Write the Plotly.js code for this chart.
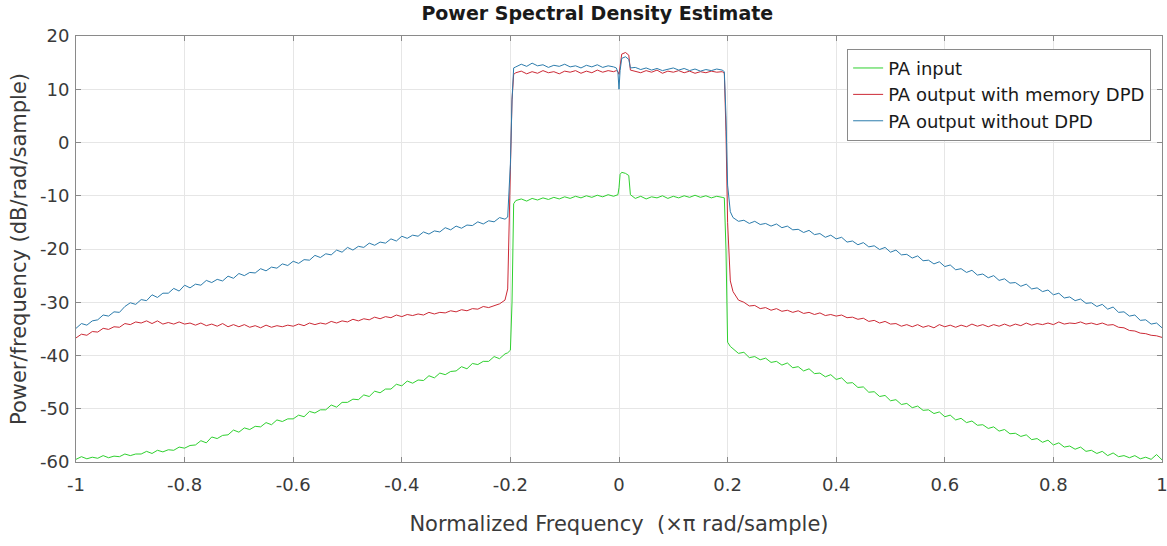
<!DOCTYPE html>
<html>
<head>
<meta charset="utf-8">
<script src="https://cdn.plot.ly/plotly-3.0.1.min.js"></script>
<style>
  html, body { margin: 0; padding: 0; background: #ffffff; }
  #chart { width: 1167px; height: 546px; }
</style>
</head>
<body>
<div id="chart"></div>
<script>
// Normalized frequency (x pi rad/sample)
const freq = [
  -1.00,-0.99,-0.98,-0.97,-0.96,-0.95,-0.94,-0.93,-0.92,-0.91,
  -0.90,-0.89,-0.88,-0.87,-0.86,-0.85,-0.84,-0.83,-0.82,-0.81,
  -0.80,-0.79,-0.78,-0.77,-0.76,-0.75,-0.74,-0.73,-0.72,-0.71,
  -0.70,-0.69,-0.68,-0.67,-0.66,-0.65,-0.64,-0.63,-0.62,-0.61,
  -0.60,-0.59,-0.58,-0.57,-0.56,-0.55,-0.54,-0.53,-0.52,-0.51,
  -0.50,-0.49,-0.48,-0.47,-0.46,-0.45,-0.44,-0.43,-0.42,-0.41,
  -0.40,-0.39,-0.38,-0.37,-0.36,-0.35,-0.34,-0.33,-0.32,-0.31,
  -0.30,-0.29,-0.28,-0.27,-0.26,-0.25,-0.24,-0.23,-0.22,-0.21,
  -0.205,-0.200,-0.197,-0.194,
  -0.19,-0.18,-0.17,-0.16,-0.15,-0.14,-0.13,-0.12,-0.11,-0.10,
  -0.09,-0.08,-0.07,-0.06,-0.05,-0.04,-0.03,-0.02,-0.01,
  -0.005,-0.002,0.000,0.002,0.005,0.012,0.018,0.021,
  0.03,0.04,0.05,0.06,0.07,0.08,0.09,0.10,0.11,0.12,
  0.13,0.14,0.15,0.16,0.17,0.18,0.19,
  0.194,0.197,0.200,0.205,
  0.21,0.22,0.23,0.24,0.25,0.26,0.27,0.28,0.29,0.30,
  0.31,0.32,0.33,0.34,0.35,0.36,0.37,0.38,0.39,0.40,
  0.41,0.42,0.43,0.44,0.45,0.46,0.47,0.48,0.49,0.50,
  0.51,0.52,0.53,0.54,0.55,0.56,0.57,0.58,0.59,0.60,
  0.61,0.62,0.63,0.64,0.65,0.66,0.67,0.68,0.69,0.70,
  0.71,0.72,0.73,0.74,0.75,0.76,0.77,0.78,0.79,0.80,
  0.81,0.82,0.83,0.84,0.85,0.86,0.87,0.88,0.89,0.90,
  0.91,0.92,0.93,0.94,0.95,0.96,0.97,0.98,0.99,1.00
];

// PA input (dB/rad/sample)
const paInput = [
  -59.5,-59.0,-59.4,-59.1,-59.3,-58.8,-59.2,-58.9,-59.0,-58.5,
  -58.8,-58.5,-58.5,-58.0,-58.4,-57.8,-58.1,-57.7,-57.8,-57.2,
  -57.4,-56.9,-56.8,-56.0,-56.4,-55.3,-55.6,-55.0,-54.9,-54.0,
  -54.4,-53.6,-53.9,-53.3,-53.4,-52.6,-53.0,-52.1,-52.4,-51.9,
  -51.9,-51.2,-51.5,-50.5,-50.8,-50.2,-50.2,-49.3,-49.7,-48.8,
  -48.8,-48.2,-48.3,-47.4,-47.7,-46.7,-47.0,-46.3,-46.3,-45.4,
  -45.7,-44.8,-45.2,-44.6,-44.7,-43.8,-44.2,-43.3,-43.6,-43.0,
  -42.9,-42.1,-42.5,-41.5,-41.7,-41.1,-41.1,-40.2,-40.6,-39.7,
  -39.5,-39.0,-30.0,-11.5,
  -10.9,-10.6,-11.0,-10.5,-10.8,-10.4,-10.7,-10.3,-10.6,-10.2,
  -10.5,-10.1,-10.4,-10.0,-10.3,-9.9,-10.2,-9.8,-10.1,
  -10.0,-9.8,-8.5,-6.0,-5.6,-5.8,-6.2,-9.8,
  -10.5,-10.1,-10.6,-10.2,-10.4,-10.0,-10.5,-10.1,-10.4,-10.0,
  -10.3,-9.9,-10.3,-10.0,-10.4,-10.1,-10.3,
  -10.4,-20.0,-37.5,-38.3,
  -38.7,-39.6,-39.4,-40.4,-40.2,-40.8,-40.5,-41.3,-41.1,-41.8,
  -41.4,-42.3,-42.1,-42.9,-42.5,-43.4,-43.3,-44.0,-43.6,-44.5,
  -44.2,-45.2,-45.1,-46.0,-45.9,-46.9,-46.8,-47.7,-47.5,-48.5,
  -48.3,-49.2,-49.0,-49.8,-49.5,-50.3,-50.2,-50.9,-50.6,-51.5,
  -51.2,-52.1,-51.8,-52.6,-52.3,-53.1,-53.0,-53.7,-53.4,-54.2,
  -53.9,-54.7,-54.6,-55.2,-54.9,-55.8,-55.6,-56.3,-55.9,-56.8,
  -56.4,-57.2,-57.0,-57.6,-57.2,-58.0,-57.8,-58.4,-58.0,-58.8,
  -58.3,-59.0,-58.8,-59.2,-58.8,-59.4,-59.1,-59.5,-58.6,-59.6
];

// PA output with memory DPD (dB/rad/sample)
const paOutMemDPD = [
  -36.7,-36.0,-36.2,-35.5,-35.6,-34.9,-35.1,-34.6,-34.7,-34.0,
  -34.2,-33.7,-33.9,-33.5,-34.0,-33.5,-34.1,-33.8,-34.1,-33.7,
  -34.1,-33.9,-34.3,-33.9,-34.4,-34.1,-34.5,-34.0,-34.6,-34.2,
  -34.6,-34.2,-34.7,-34.4,-34.8,-34.3,-34.7,-34.4,-34.6,-34.3,
  -34.5,-34.1,-34.4,-33.9,-34.2,-33.9,-34.1,-33.6,-33.9,-33.5,
  -33.7,-33.2,-33.5,-33.1,-33.3,-32.8,-33.1,-32.7,-32.9,-32.4,
  -32.7,-32.3,-32.5,-32.2,-32.4,-31.9,-32.2,-31.9,-32.0,-31.6,
  -31.8,-31.4,-31.6,-31.2,-31.3,-30.8,-31.0,-30.6,-30.3,-29.6,
  -27.5,-5.0,8.0,12.8,
  13.1,13.4,12.9,13.3,13.0,13.5,13.1,13.3,12.9,13.4,
  13.2,13.5,13.0,13.4,13.1,13.6,13.2,13.5,13.3,
  13.5,13.3,12.8,14.0,16.6,16.9,16.4,13.6,
  13.4,13.1,13.5,13.2,13.6,13.0,13.4,13.2,13.5,13.1,
  13.4,13.0,13.3,13.1,13.4,13.2,13.3,
  13.0,2.0,-15.0,-26.0,
  -28.0,-29.6,-30.0,-30.7,-30.6,-31.2,-31.0,-31.5,-31.2,-31.7,
  -31.5,-31.9,-31.6,-32.1,-31.9,-32.3,-32.0,-32.5,-32.3,-32.6,
  -32.4,-32.9,-32.8,-33.2,-33.0,-33.6,-33.4,-33.9,-33.6,-34.1,
  -34.0,-34.5,-34.2,-34.6,-34.2,-34.7,-34.4,-34.8,-34.2,-34.6,
  -34.3,-34.7,-34.3,-34.6,-34.1,-34.5,-34.2,-34.6,-34.2,-34.5,
  -34.1,-34.5,-34.1,-34.4,-33.9,-34.3,-34.0,-34.2,-33.9,-34.2,
  -33.7,-34.1,-33.9,-34.0,-33.7,-34.1,-33.9,-34.2,-33.9,-34.3,
  -34.2,-34.7,-34.8,-35.3,-35.4,-35.8,-35.9,-36.2,-36.3,-36.6
];

// PA output without DPD (dB/rad/sample)
const paOutNoDPD = [
  -34.9,-34.0,-34.3,-33.5,-33.3,-32.4,-32.6,-31.8,-31.9,-30.8,
  -30.1,-30.4,-29.5,-29.7,-28.6,-29.1,-28.3,-28.3,-27.4,-27.9,
  -26.8,-27.3,-26.6,-26.8,-25.9,-26.3,-25.7,-26.0,-25.1,-25.5,
  -24.6,-25.0,-24.4,-24.5,-23.7,-24.1,-23.4,-23.6,-22.8,-23.1,
  -22.3,-22.7,-22.0,-22.1,-21.2,-21.6,-20.9,-21.1,-20.2,-20.6,
  -19.7,-20.2,-19.5,-19.7,-18.9,-19.3,-18.7,-18.9,-18.1,-18.5,
  -17.6,-18.0,-17.4,-17.6,-16.8,-17.2,-16.6,-16.8,-16.0,-16.4,
  -15.7,-16.1,-15.5,-15.6,-14.9,-15.3,-14.7,-14.9,-14.1,-14.4,
  -14.0,-4.0,8.0,14.0,
  14.2,14.7,14.3,14.9,14.4,14.6,14.1,14.5,14.3,14.7,
  14.2,14.4,14.0,14.5,14.2,14.6,14.1,14.4,14.2,
  14.0,13.2,10.0,13.5,15.8,16.1,15.6,14.0,
  14.1,13.7,14.0,13.6,13.9,13.5,13.8,14.0,13.6,13.9,
  13.5,13.8,13.4,13.7,13.5,13.8,13.6,
  13.3,5.0,-8.0,-13.0,
  -14.1,-14.8,-14.6,-15.2,-14.8,-15.4,-15.2,-15.7,-15.3,-16.0,
  -15.7,-16.4,-16.3,-16.9,-16.5,-17.3,-17.1,-17.8,-17.4,-18.1,
  -17.8,-18.7,-18.5,-19.2,-18.8,-19.6,-19.4,-20.1,-19.7,-20.6,
  -20.2,-21.1,-21.0,-21.7,-21.3,-22.2,-22.1,-22.8,-22.4,-23.3,
  -23.0,-23.9,-23.7,-24.4,-24.0,-24.9,-24.7,-25.4,-25.0,-25.9,
  -25.6,-26.4,-26.3,-27.0,-26.6,-27.5,-27.3,-28.0,-27.7,-28.6,
  -28.3,-29.2,-29.0,-29.7,-29.4,-30.2,-30.1,-30.8,-30.4,-31.3,
  -30.9,-31.9,-31.8,-32.6,-32.4,-33.4,-33.3,-34.1,-33.9,-34.8
];

const seriesNames = ["PA input", "PA output with memory DPD", "PA output without DPD"];

const xTickVals = [-1, -0.8, -0.6, -0.4, -0.2, 0, 0.2, 0.4, 0.6, 0.8, 1];
const xTickText = ["-1", "-0.8", "-0.6", "-0.4", "-0.2", "0", "0.2", "0.4", "0.6", "0.8", "1"];
const yTickVals = [-60, -50, -40, -30, -20, -10, 0, 10, 20];
const yTickText = ["-60", "-50", "-40", "-30", "-20", "-10", "0", "10", "20"];

const FONT = "DejaVu Sans, Arial, sans-serif";

const traces = [
  { x: freq, y: paInput, name: seriesNames[0], type: "scatter", mode: "lines",
    line: { color: "#2fd02f", width: 1 } },
  { x: freq, y: paOutMemDPD, name: seriesNames[1], type: "scatter", mode: "lines",
    line: { color: "#cc2a36", width: 1 } },
  { x: freq, y: paOutNoDPD, name: seriesNames[2], type: "scatter", mode: "lines",
    line: { color: "#2c7cac", width: 1 } }
];

const axisCommon = {
  showgrid: true, gridcolor: "#e6e6e6", gridwidth: 1,
  zeroline: false, showline: true, linecolor: "#8a8a8a", linewidth: 1,
  mirror: "ticks", ticks: "inside", ticklen: 5, tickcolor: "#8a8a8a",
  ticklabeloverflow: "allow",
  tickfont: { family: FONT, size: 18, color: "#3a3a3a" }
};

const layout = {
  width: 1167, height: 546,
  paper_bgcolor: "#ffffff", plot_bgcolor: "#ffffff",
  margin: { l: 76, r: 5, t: 36, b: 84 },
  showlegend: true,
  title: { text: "<b>Power Spectral Density Estimate</b>", x: 0.48, xref: "paper",
           y: 1 - 13 / 546, yref: "container", yanchor: "middle",
           font: { family: FONT, size: 19, color: "#1a1a1a" } },
  xaxis: Object.assign({}, axisCommon, {
    range: [-1, 1], tickmode: "array", tickvals: xTickVals, ticktext: xTickText,
    ticklabelstandoff: 6,
    title: { text: "Normalized Frequency  (×π rad/sample)", standoff: 22,
             font: { family: FONT, size: 21, color: "#3a3a3a" } }
  }),
  yaxis: Object.assign({}, axisCommon, {
    range: [-60, 20], tickmode: "array", tickvals: yTickVals, ticktext: yTickText,
    ticklabelstandoff: 2,
    title: { text: "Power/frequency (dB/rad/sample)", standoff: 7,
             font: { family: FONT, size: 21, color: "#3a3a3a" } }
  }),
  legend: {
    x: 0.99, y: 0.97, xanchor: "right", yanchor: "top",
    bgcolor: "#ffffff", bordercolor: "#8a8a8a", borderwidth: 1,
    entrywidth: 288, entrywidthmode: "pixels",
    font: { family: FONT, size: 18, color: "#1a1a1a" }
  }
};

Plotly.newPlot("chart", traces, layout, { displayModeBar: false, staticPlot: true });
</script>
</body>
</html>
